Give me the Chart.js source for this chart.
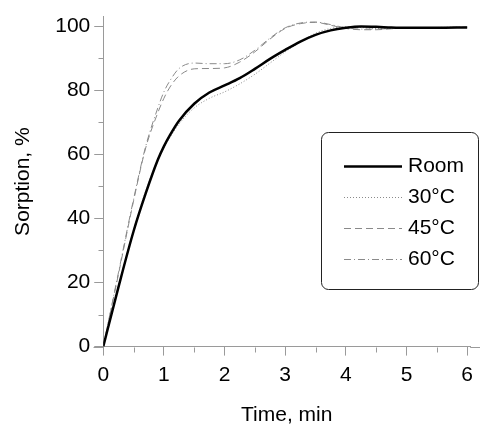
<!DOCTYPE html>
<html>
<head>
<meta charset="utf-8">
<title>Sorption vs time</title>
<script src="https://cdn.jsdelivr.net/npm/chart.js@4.4.1/dist/chart.umd.min.js"></script>
<style>
    html, body { margin: 0; padding: 0; background: #fff; }
    #wrap { width: 480px; height: 433px; }
</style>
</head>
<body>
<div id="wrap"><canvas id="sorptionChart" width="480" height="433"></canvas></div>
<script>
    // Time points (min)
    const timeMin = [0, 0.25, 0.5, 0.7, 0.9, 1.0, 1.1, 1.25, 1.5, 1.75, 2.0, 2.25, 2.5, 2.75, 3.0, 3.25, 3.5, 3.75, 4.0, 4.25, 4.5, 4.75, 5.0, 5.5, 6.0];

    // Sorption, % for each sample
    const roomValues = [0, 18.5, 36, 47.8, 58.3, 62.5, 66, 70.5, 75.8, 79.3, 81.5, 83.8, 86.7, 89.8, 92.6, 95.2, 97.3, 98.7, 99.5, 99.9, 99.8, 99.6, 99.5, 99.5, 99.6];
    const c30Values = [0, 18.8, 36.5, 48.5, 58.5, 62.2, 65.3, 69.5, 74.5, 77.5, 79.5, 82, 85, 88.5, 92, 95, 97.8, 99.3, 99.8, 99.6, 99.3, 99.3, 99.5, 99.6, 99.7];
    const c45Values = [0, 22.5, 45.5, 62, 73, 77.5, 81, 84.5, 86.7, 86.8, 87, 88.8, 92, 96, 99.3, 100.8, 101.2, 100.3, 99.3, 98.9, 98.9, 99.2, 99.5, 99.6, 99.7];
    const c60Values = [0, 23, 46, 62.5, 74.5, 79.5, 83, 86.8, 88.5, 88.3, 88.3, 89.5, 92.5, 96.3, 99.5, 101, 101.3, 100.5, 99.5, 99.1, 99.1, 99.3, 99.5, 99.6, 99.7];

    const seriesLabels = ['Room', '30°C', '45°C', '60°C'];

    // Axis ticks
    const xTicks = [0, 1, 2, 3, 4, 5, 6];
    const xMinorTicks = [0.5, 1.5, 2.5, 3.5, 4.5, 5.5];
    const yTicks = [0, 20, 40, 60, 80, 100];
    const yMinorTicks = [10, 30, 50, 70, 90];

    const axisGrey = '#9a9a9a';
    const lineGrey = '#8a8a8a';
    const fontFamily = "'Liberation Sans', Arial, sans-serif";

    function toPoints(values) {
        return values.map((v, i) => ({ x: timeMin[i], y: v }));
    }

    // minor ticks + the stubs of the x axis past the plot on both sides
    const minorTicks = {
        id: 'minorTicks',
        afterDraw(chart) {
            let ctx = chart.ctx;
            let x = chart.scales.x;
            let y = chart.scales.y;
            ctx.save();
            ctx.strokeStyle = axisGrey;
            ctx.lineWidth = 1;
            let bottom = Math.round(y.getPixelForValue(0)) + 0.5;
            let axisX = Math.round(x.getPixelForValue(0)) + 0.5;
            ctx.beginPath();
            ctx.moveTo(axisX - 10, bottom);
            ctx.lineTo(axisX, bottom);
            ctx.moveTo(x.right, bottom);
            ctx.lineTo(chart.width, bottom);
            xMinorTicks.forEach(v => {
                let px = Math.round(x.getPixelForValue(v)) + 0.5;
                ctx.moveTo(px, bottom);
                ctx.lineTo(px, bottom + 5);
            });
            yMinorTicks.forEach(v => {
                let py = Math.round(y.getPixelForValue(v)) + 0.5;
                ctx.moveTo(axisX - 5, py);
                ctx.lineTo(axisX, py);
            });
            ctx.stroke();
            ctx.restore();
        }
    };

    // legend drawn as a rounded box inside the plot
    const boxLegend = {
        id: 'boxLegend',
        afterDatasetsDraw(chart) {
            let ctx = chart.ctx;
            let left = 321.5, top = 132.5, w = 157, h = 157, r = 7;
            ctx.save();
            ctx.beginPath();
            ctx.moveTo(left + r, top);
            ctx.arcTo(left + w, top, left + w, top + h, r);
            ctx.arcTo(left + w, top + h, left, top + h, r);
            ctx.arcTo(left, top + h, left, top, r);
            ctx.arcTo(left, top, left + w, top, r);
            ctx.closePath();
            ctx.fillStyle = '#fff';
            ctx.fill();
            ctx.strokeStyle = '#222';
            ctx.lineWidth = 1;
            ctx.stroke();

            ctx.font = '21px ' + fontFamily;
            ctx.textBaseline = 'middle';
            ctx.fillStyle = '#000';
            chart.data.datasets.forEach((ds, i) => {
                let yy = Math.round(166 + i * 31) + 0.5;
                ctx.beginPath();
                ctx.strokeStyle = ds.borderColor;
                ctx.lineWidth = ds.borderWidth;
                ctx.setLineDash(ds.borderDash || []);
                ctx.moveTo(344, yy);
                ctx.lineTo(402, yy);
                ctx.stroke();
                ctx.setLineDash([]);
                ctx.fillText(ds.label, 408, yy);
            });
            ctx.restore();
        }
    };

    let chart = new Chart(document.getElementById('sorptionChart'), {
        type: 'line',
        data: {
            datasets: [
                {
                    label: seriesLabels[0],
                    data: toPoints(roomValues),
                    borderColor: '#000',
                    borderWidth: 2.5
                },
                {
                    label: seriesLabels[1],
                    data: toPoints(c30Values),
                    borderColor: lineGrey,
                    borderWidth: 1,
                    borderDash: [1, 2]
                },
                {
                    label: seriesLabels[2],
                    data: toPoints(c45Values),
                    borderColor: lineGrey,
                    borderWidth: 1,
                    borderDash: [7, 4]
                },
                {
                    label: seriesLabels[3],
                    data: toPoints(c60Values),
                    borderColor: lineGrey,
                    borderWidth: 1,
                    borderDash: [7, 3, 1, 3]
                }
            ]
        },
        options: {
            responsive: false,
            animation: false,
            devicePixelRatio: 1,
            elements: {
                point: { radius: 0 },
                line: { cubicInterpolationMode: 'monotone', fill: false }
            },
            layout: { padding: { left: 0, right: 0, top: 0, bottom: 0 } },
            plugins: {
                legend: { display: false },
                tooltip: { enabled: false }
            },
            scales: {
                x: {
                    type: 'linear',
                    min: 0,
                    max: 6.05,
                    afterBuildTicks: s => { s.ticks = xTicks.map(v => ({ value: v })); },
                    grid: { drawOnChartArea: false, drawTicks: true, tickLength: 9, color: axisGrey },
                    border: { color: axisGrey },
                    ticks: {
                        color: '#000',
                        padding: 7,
                        maxRotation: 0,
                        font: { family: fontFamily, size: 21 }
                    },
                    title: {
                        display: true,
                        text: 'Time, min',
                        color: '#000',
                        font: { family: fontFamily, size: 21 },
                        padding: { top: 8, bottom: 5 }
                    }
                },
                y: {
                    min: 0,
                    max: 103,
                    afterBuildTicks: s => { s.ticks = yTicks.map(v => ({ value: v })); },
                    grid: { drawOnChartArea: false, drawTicks: true, tickLength: 9, color: axisGrey },
                    border: { color: axisGrey },
                    ticks: {
                        color: '#000',
                        padding: 4,
                        font: { family: fontFamily, size: 21 }
                    },
                    title: {
                        display: true,
                        text: 'Sorption, %',
                        color: '#000',
                        font: { family: fontFamily, size: 21 },
                        padding: { top: 11, bottom: 15 }
                    }
                }
            }
        },
        plugins: [minorTicks, boxLegend]
    });
</script>
</body>
</html>
